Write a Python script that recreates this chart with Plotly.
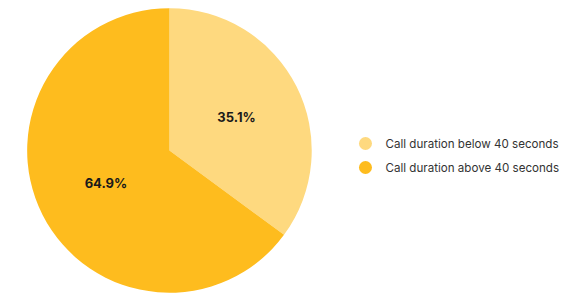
import plotly.graph_objects as go

labels = ["Call duration below 40 seconds", "Call duration above 40 seconds"]
values = [35.1, 64.9]
colors = ["#FED97F", "#FEBC1E"]

fig = go.Figure()
fig.add_trace(go.Pie(
    labels=labels,
    values=values,
    sort=False,
    direction="clockwise",
    rotation=0,
    marker=dict(colors=colors, line=dict(width=0)),
    texttemplate="<b>%{value:.1f}%</b>",
    textposition="inside",
    insidetextfont=dict(family="Inter, sans-serif", size=13, color="#1a1a1a"),
    hoverinfo="label+percent",
    showlegend=False,
    domain=dict(x=[0.0335, 0.531], y=[0.034, 1.0]),
))

for i, (lab, col) in enumerate(zip(labels, colors)):
    fig.add_trace(go.Scatter(
        x=[None], y=[None], mode="markers", name=lab,
        marker=dict(color=col, size=13, symbol="circle"),
        legendgroup=f"g{i}", showlegend=True,
    ))

fig.update_layout(
    width=572, height=295,
    margin=dict(l=0, r=0, t=0, b=0),
    paper_bgcolor="white",
    plot_bgcolor="white",
    xaxis=dict(visible=False),
    yaxis=dict(visible=False),
    showlegend=True,
    legend=dict(x=0.59, y=0.5, yanchor="middle", xanchor="left",
                font=dict(family="Inter, sans-serif", size=11.6, color="#333333"),
                itemsizing="trace", tracegroupgap=5),
)

fig.write_html("out.html")
